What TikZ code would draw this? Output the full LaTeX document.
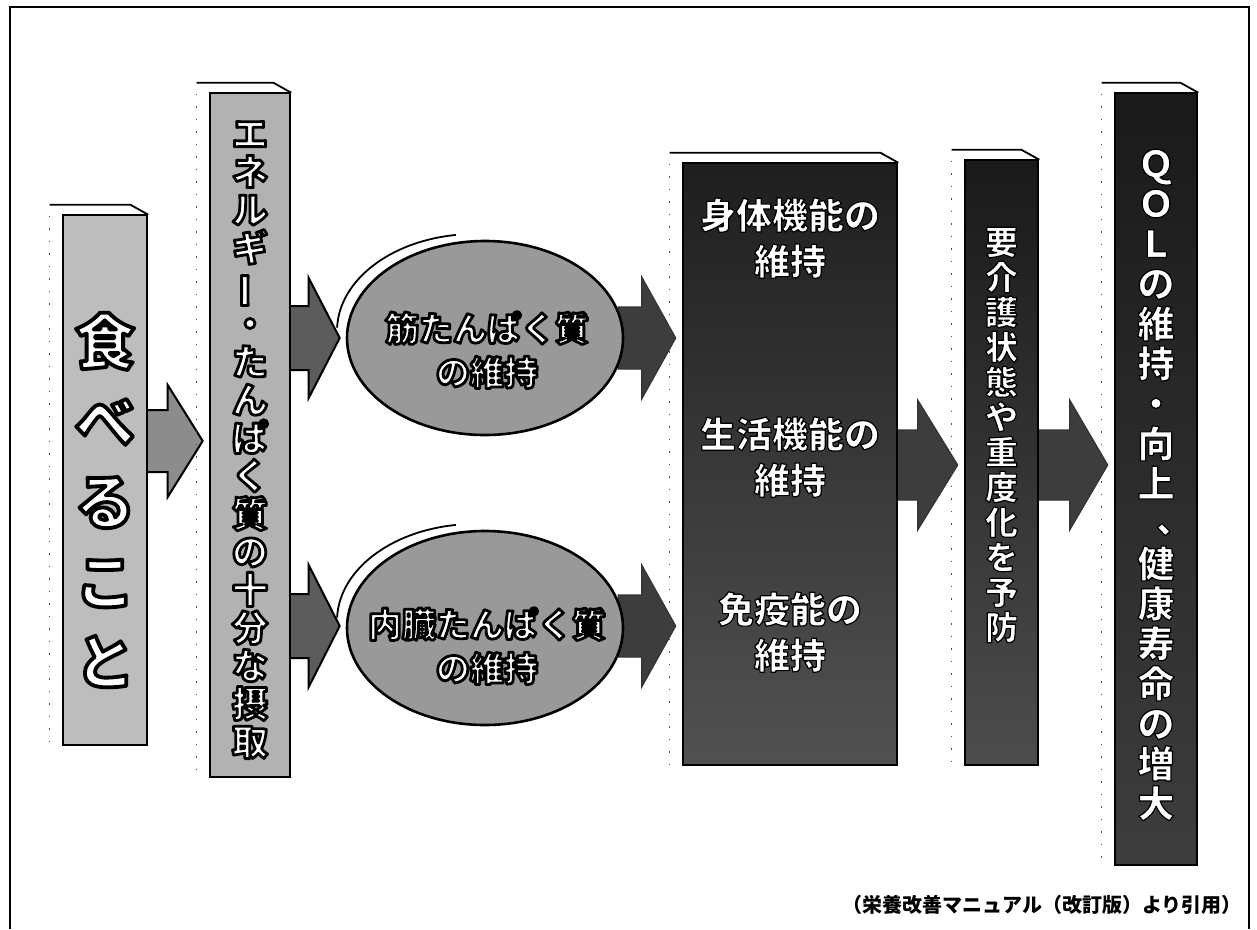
\documentclass[tikz,border=0pt]{standalone}
\usepackage{fontspec}
\usepackage{graphicx}
\newfontfamily\jp{Noto Sans CJK JP}
\usetikzlibrary{calc,shapes.geometric,backgrounds}

\definecolor{cEat}{gray}{0.74}
\definecolor{cEne}{gray}{0.70}
\definecolor{cEll}{gray}{0.60}
\definecolor{cArA}{gray}{0.55}
\definecolor{cArB}{gray}{0.36}
\definecolor{cArC}{gray}{0.24}

% outlined text: PDF text render mode 2 (fill white, stroke black)
\def\ocw{2}
\newcommand\setoc[1]{\def\ocw{#1}}
\newcommand\oc[1]{\special{pdf:literal direct 2 Tr \ocw\space w 0 G 1 j}#1\special{pdf:literal direct 0 Tr}}
\newcommand\vbar{\rotatebox[origin=c]{90}{ー}}
\newcommand\vcm{\makebox[1em][l]{\kern.5em\raisebox{.12em}{、}}}

% vertical text: one character per line
\makeatletter
\def\vt@end{\vt@end}
\newcommand\vt[1]{\def\vt@list{}\vt@build#1\vt@end}
\def\vt@build#1{\ifx#1\vt@end\expandafter\vt@list\else\vt@addone{#1}\expandafter\vt@build\fi}
\def\vt@addone#1{\ifx\vt@list\@empty\def\vt@list{\oc{#1}}\else
 \expandafter\def\expandafter\vt@list\expandafter{\vt@list\\\oc{#1}}\fi}
\makeatother

% fat arrow from node #2 to node #3 at height #4
\newcommand\fatarrow[7]{%
 \coordinate (fa-s) at ($(#2.east |- 0,#4)+(-6,0)$);
 \coordinate (fa-t) at ($(#3.west |- 0,#4)+(-6,0)$);
 \draw[#1] ($(fa-s)+(0,-#5)$) -- ($(fa-t)+(-#7,-#5)$) -- ($(fa-t)+(-#7,-#6)$) -- (fa-t)
  -- ($(fa-t)+(-#7,#6)$) -- ($(fa-t)+(-#7,#5)$) -- ($(fa-s)+(0,#5)$) -- cycle;}

\begin{document}
\begin{tikzpicture}[x=1pt,y=-1pt,
  lbox/.style={draw=black, line width=2.6pt, inner sep=0pt},
  dbox/.style={draw=black, line width=2.6pt, inner sep=0pt},
  ell/.style={ellipse, draw=black, line width=2.6pt, fill=cEll, inner sep=0pt,
     minimum width=276pt, minimum height=194pt},
  topline/.style={line width=1.8pt, line join=round},
  dotline/.style={black!70, line width=1.4pt, dash pattern=on 1.5pt off 11pt},
  vtxt/.style={align=center, inner sep=0pt, text=white},
  arrA/.style={draw=black, line width=2pt, fill=cArA, line join=miter},
  arrB/.style={draw=black, line width=2pt, fill=cArB, line join=miter},
  arrC/.style={draw=black!80, line width=1.2pt, fill=cArC, line join=miter}]
\useasboundingbox (0,0) rectangle (1257,929);

% frame
\draw[line width=2.6pt] (10,929) -- (10,7) -- (1249,7) -- (1249,929);

% boxes
\node[lbox, fill=cEat, minimum width=84pt, minimum height=530pt] (eat) at (105,480) {};
\node[lbox, fill=cEne, minimum width=80pt, minimum height=684pt] (ene) at (250,435) {};
\node[ell] (mus) at (485,338) {};
\node[ell] (vis) at (485,628) {};
\node[dbox, top color=black!88, bottom color=black!68, minimum width=214pt, minimum height=602pt] (big) at (790,464) {};
\node[dbox, top color=black!90, bottom color=black!70, minimum width=73pt, minimum height=605pt] (kaigo) at (1001.5,462.5) {};
\node[dbox, top color=black!90, bottom color=black!76, minimum width=82pt, minimum height=772pt] (qol) at (1156,479) {};

% 3D top edges and dotted side edges
\foreach \n in {eat,ene,big,kaigo,qol}{
  \draw[topline] ($(\n.north west)+(-12,-9)$) -- ($(\n.north east)+(-18,-9)$) -- ($(\n.north east)+(0,1)$);
  \draw[dotline] ($(\n.north west)+(-12,2)$) -- ($(\n.south west)+(-12,0)$);
}
\foreach \n in {mus,vis}{
  \draw[topline] ($(\n.center)+(-10,-7)$) ++(182:138 and 97) arc (182:262:138 and 97);
}

% connectors
\begin{pgfonlayer}{background}
\fill[white] (0,0) rectangle (1257,929);
\fatarrow{arrA}{eat}{ene}{441}{31}{56}{35}
\fatarrow{arrB}{ene}{mus}{338}{32}{60}{31}
\fatarrow{arrB}{ene}{vis}{626}{32}{61}{31}
\fatarrow{arrC}{mus}{big}{338}{31}{61}{34}
\fatarrow{arrC}{vis}{big}{626}{31}{61}{34}
\fatarrow{arrC}{big}{kaigo}{465}{35}{65}{40}
\fatarrow{arrC}{kaigo}{qol}{465}{35}{65}{38}
\end{pgfonlayer}

% texts
\node[vtxt, font={\jp\bfseries\fontsize{60}{80}\selectfont\setoc{3.8}}] (eatT) at (105,500) {\vt{食べること}};
\node[vtxt, font={\jp\bfseries\fontsize{36}{38}\selectfont\setoc{2.8}}] (eneT) at (250,440) {\vt{エネルギ\vbar・たんぱく質の十分な摂取}};
\node[vtxt, font={\jp\bfseries\fontsize{34}{44}\selectfont\setoc{2.8}}] (musT) at (487,350) {\oc{筋たんぱく質}\\\oc{の維持}};
\node[vtxt, font={\jp\bfseries\fontsize{34}{44}\selectfont\setoc{2.8}}] (visT) at (487,646) {\oc{内臓たんぱく質}\\\oc{の維持}};
\node[vtxt, font={\jp\bfseries\fontsize{36}{46}\selectfont\setoc{1.2}}] (bigT1) at (790,238) {\oc{身体機能の}\\\oc{維持}};
\node[vtxt, font={\jp\bfseries\fontsize{36}{46}\selectfont\setoc{1.2}}] (bigT2) at (790,457) {\oc{生活機能の}\\\oc{維持}};
\node[vtxt, font={\jp\bfseries\fontsize{36}{46}\selectfont\setoc{1.2}}] (bigT3) at (790,632) {\oc{免疫能の}\\\oc{維持}};
\node[vtxt, font={\jp\bfseries\fontsize{33}{35}\selectfont\setoc{1.2}}] (kaigoT) at (1001.5,435) {\vt{要介護状態や重度化を予防}};
\node[vtxt, font={\jp\bfseries\fontsize{37}{40}\selectfont\setoc{1.2}}] (qolT) at (1156,485) {\vt{ＱＯＬの維持・向上\vcm 健康寿命の増大}};
\node[anchor=east, inner sep=0pt, font={\jp\bfseries\fontsize{20}{22}\selectfont}] (cite) at (1242,905) {（栄養改善マニュアル（改訂版）より引用）};
\end{tikzpicture}
\end{document}
